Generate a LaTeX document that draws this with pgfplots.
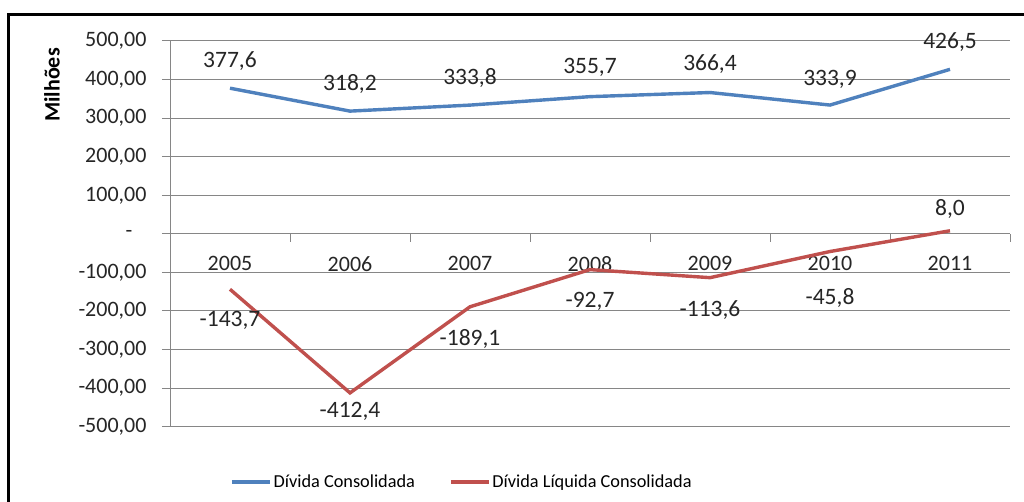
\documentclass[border=0pt]{standalone}
\usepackage{fontspec}
\setmainfont{Carlito}
\usepackage{pgfplots}
\pgfplotsset{compat=1.18}
\usepackage{pgfplotstable}
\definecolor{serA}{HTML}{4F81BD}
\definecolor{serB}{HTML}{C0504D}
\definecolor{gridc}{HTML}{868686}

\pgfplotstableread{
x y dy lab
0.5 377.6 27 377,6
1.5 318.2 27 318,2
2.5 333.8 27 333,8
3.5 355.7 29 355,7
4.5 366.4 28.5 366,4
5.5 333.9 26 333,9
6.5 426.5 27 426,5
}\dadosA

\pgfplotstableread{
x y dy lab
0.5 -143.7 -31.5 -143,7
1.5 -412.4 -18 -412,4
2.5 -189.1 -32.5 -189,1
3.5 -92.7 -31.5 -92,7
4.5 -113.6 -32 -113,6
5.5 -45.8 -46 -45,8
6.5 8.0 21.5 8,0
}\dadosB

\begin{document}
\begin{tikzpicture}
\path[use as bounding box] (0,0) rectangle (1024bp,502bp);
\fill[white] (0,0) rectangle (1024bp,502bp);
\draw[line width=3bp] (8.5bp,0) -- (8.5bp,487bp) -- (1024bp,487bp);
\begin{axis}[
  at={(170bp,75.3bp)}, anchor=south west,
  scale only axis, width=840bp, height=385.7bp,
  xmin=0, xmax=7, ymin=-500, ymax=500,
  axis x line*=middle, axis y line*=left,
  axis line style={gridc, line width=1bp, -},
  tick align=outside,
  major tick length=8bp,
  tick style={gridc, line width=1bp},
  xtick={0,1,...,7}, xticklabels={},
  extra x ticks={0.5,1.5,2.5,3.5,4.5,5.5,6.5},
  extra x tick labels={2005,2006,2007,2008,2009,2010,2011},
  extra x tick style={major tick length=0pt, grid=none,
     tick label style={yshift=-19bp}},
  ytick={-500,-400,-300,-200,-100,0,100,200,300,400,500},
  yticklabels={{-500,00},{-400,00},{-300,00},{-200,00},{-100,00},{-\hspace*{14bp}},{100,00},{200,00},{300,00},{400,00},{500,00}},
  yticklabel style={xshift=-12bp},
  ymajorgrids, grid style={gridc, line width=1bp},
  tick label style={font=\fontsize{22bp}{26bp}\selectfont, text=black!85},
  ylabel={\bfseries Milhões},
  ylabel style={at={(axis description cs:-0.1405,0.886)}, anchor=center, rotate=0,
     font=\fontsize{22bp}{26bp}\selectfont},
  legend style={at={(axis description cs:0.3476,-0.143)}, anchor=center,
     draw=none, fill=none, font=\fontsize{18.3bp}{22bp}\selectfont,
     /tikz/every even column/.append style={column sep=32bp},
     inner sep=0pt},
  legend columns=2,
  legend image code/.code={\draw[#1] (0bp,0bp) -- (38bp,0bp);},
  nodes near coords,
  point meta=explicit symbolic,
  nodes near coords style={anchor=center, font=\fontsize{23.5bp}{27bp}\selectfont, text=black!85},
  clip=false,
]
\addplot[serA, line width=3.4bp, mark=none,
   visualization depends on={\thisrow{dy}\as\dy},
   nodes near coords style={yshift=\dy bp}]
   table[x=x, y=y, meta=lab] {\dadosA};
\addlegendentry{Dívida Consolidada}
\addplot[serB, line width=3.4bp, mark=none,
   visualization depends on={\thisrow{dy}\as\dy},
   nodes near coords style={yshift=\dy bp}]
   table[x=x, y=y, meta=lab] {\dadosB};
\addlegendentry{Dívida Líquida Consolidada}
\end{axis}
\end{tikzpicture}
\end{document}
